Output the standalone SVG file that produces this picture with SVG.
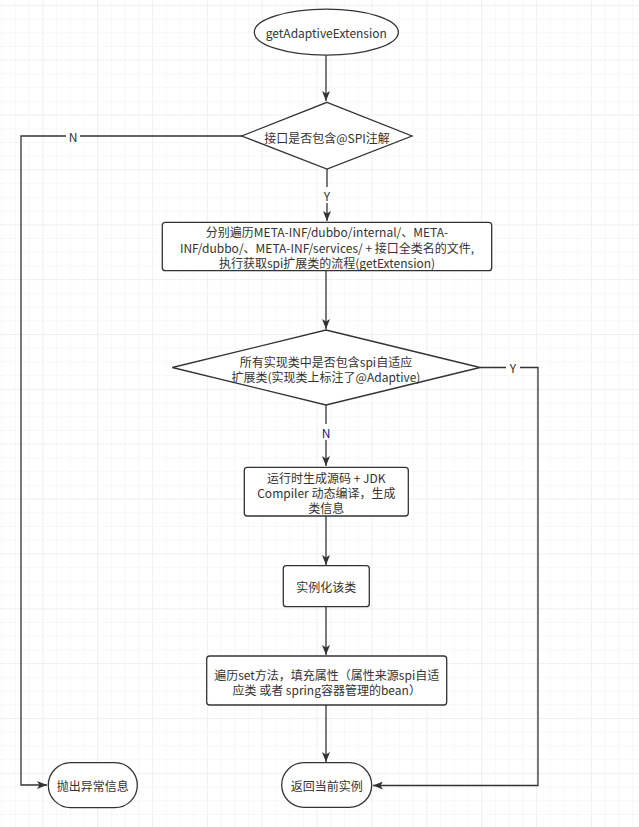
<svg xmlns="http://www.w3.org/2000/svg" width="639" height="827" viewBox="0 0 639 827">
<style>
.n{fill:#fff;stroke:#333;stroke-width:1.3}
.t{font-family:"Noto Sans CJK SC","Microsoft YaHei","Liberation Sans",sans-serif;font-size:12px;fill:#333;text-anchor:middle;dominant-baseline:central}
.e{fill:none;stroke:#333;stroke-width:1.3}
.lb{fill:#fff}
</style>
<defs>
<pattern id="minor" width="13.714" height="13.714" patternUnits="userSpaceOnUse" x="2.16" y="5.84">
<path d="M13.714 0V13.714H0" fill="none" stroke="#f2f2f2" stroke-width="1"/>
</pattern>
<pattern id="major" width="54.857" height="54.857" patternUnits="userSpaceOnUse" x="-11.55" y="5.84">
<path d="M54.857 0V54.857H0" fill="none" stroke="#e9e9e9" stroke-width="1"/>
</pattern>
<marker id="arr" viewBox="0 0 10 8" refX="10" refY="4" markerWidth="10" markerHeight="8" markerUnits="userSpaceOnUse" orient="auto">
<path d="M0 0L10 4L0 8L2.5 4Z" fill="#333"/>
</marker>
</defs>
<rect width="639" height="827" fill="#fff"/>
<rect width="639" height="827" fill="url(#minor)"/>
<rect width="639" height="827" fill="url(#major)"/>

<g id="connectors">
<path class="e" d="M326 55V101" marker-end="url(#arr)"/>
<path class="e" d="M327 169V221" marker-end="url(#arr)"/>
<path class="e" d="M242 136H21V785H47" marker-end="url(#arr)"/>
<path class="e" d="M326 271V329" marker-end="url(#arr)"/>
<path class="e" d="M480 367.5H538V785.5H373" marker-end="url(#arr)"/>
<path class="e" d="M326 405V466" marker-end="url(#arr)"/>
<path class="e" d="M326 516V565" marker-end="url(#arr)"/>
<path class="e" d="M326 607V655" marker-end="url(#arr)"/>
<path class="e" d="M326 705V762" marker-end="url(#arr)"/>
<rect class="lb" x="66" y="128" width="14" height="16"/>
<text class="t" x="73" y="136">N</text>
<rect class="lb" x="320" y="187" width="14" height="16"/>
<text class="t" x="327" y="195">Y</text>
<rect class="lb" x="506" y="359" width="14" height="16"/>
<text class="t" x="513" y="367">Y</text>
<rect class="lb" x="319" y="424" width="14" height="16"/>
<text class="t" x="326" y="432" style="fill:#1a1a6e">N</text>
</g>

<g id="start">
<ellipse class="n" cx="326.3" cy="32.2" rx="72" ry="23"/>
<text class="t" x="326.3" y="32.5">getAdaptiveExtension</text>
</g>

<g id="check-spi">
<path class="n" d="M327 102.3L412 136L327 169L241.7 136Z"/>
<text class="t" x="327" y="137">接口是否包含@SPI注解</text>
</g>

<g id="load-files">
<rect class="n" x="162.3" y="222.3" width="329.4" height="48.4" rx="3"/>
<text class="t" x="327" y="231.7">分别遍历META-INF/dubbo/internal/、META-</text>
<text class="t" x="327" y="247.2">INF/dubbo/、META-INF/services/ + 接口全类名的文件,</text>
<text class="t" x="327" y="262.7">执行获取spi扩展类的流程(getExtension)</text>
</g>

<g id="check-adaptive">
<path class="n" d="M326 330L480 367.5L326 405L172.3 367.5Z"/>
<text class="t" x="326" y="361.7">所有实现类中是否包含spi自适应</text>
<text class="t" x="326" y="376.5">扩展类(实现类上标注了@Adaptive)</text>
</g>

<g id="compile">
<rect class="n" x="244.3" y="467.3" width="164" height="48.7" rx="3"/>
<text class="t" x="326.3" y="477.3">运行时生成源码 + JDK</text>
<text class="t" x="326.3" y="492.3">Compiler 动态编译，生成</text>
<text class="t" x="326.3" y="507.3">类信息</text>
</g>

<g id="instantiate">
<rect class="n" x="283.3" y="565.7" width="86" height="41" rx="3"/>
<text class="t" x="326.3" y="586.5">实例化该类</text>
</g>

<g id="inject">
<rect class="n" x="206.7" y="656" width="240" height="49" rx="3"/>
<text class="t" x="326.7" y="674.3">遍历set方法，填充属性（属性来源spi自适</text>
<text class="t" x="326.7" y="689.3">应类 或者 spring容器管理的bean）</text>
</g>

<g id="return">
<rect class="n" x="281.7" y="762.7" width="90" height="44.6" rx="22.3"/>
<text class="t" x="326.7" y="785.5">返回当前实例</text>
</g>

<g id="throw">
<rect class="n" x="48.3" y="762.7" width="89" height="45" rx="22.5"/>
<text class="t" x="92.8" y="785.5">抛出异常信息</text>
</g>
</svg>
